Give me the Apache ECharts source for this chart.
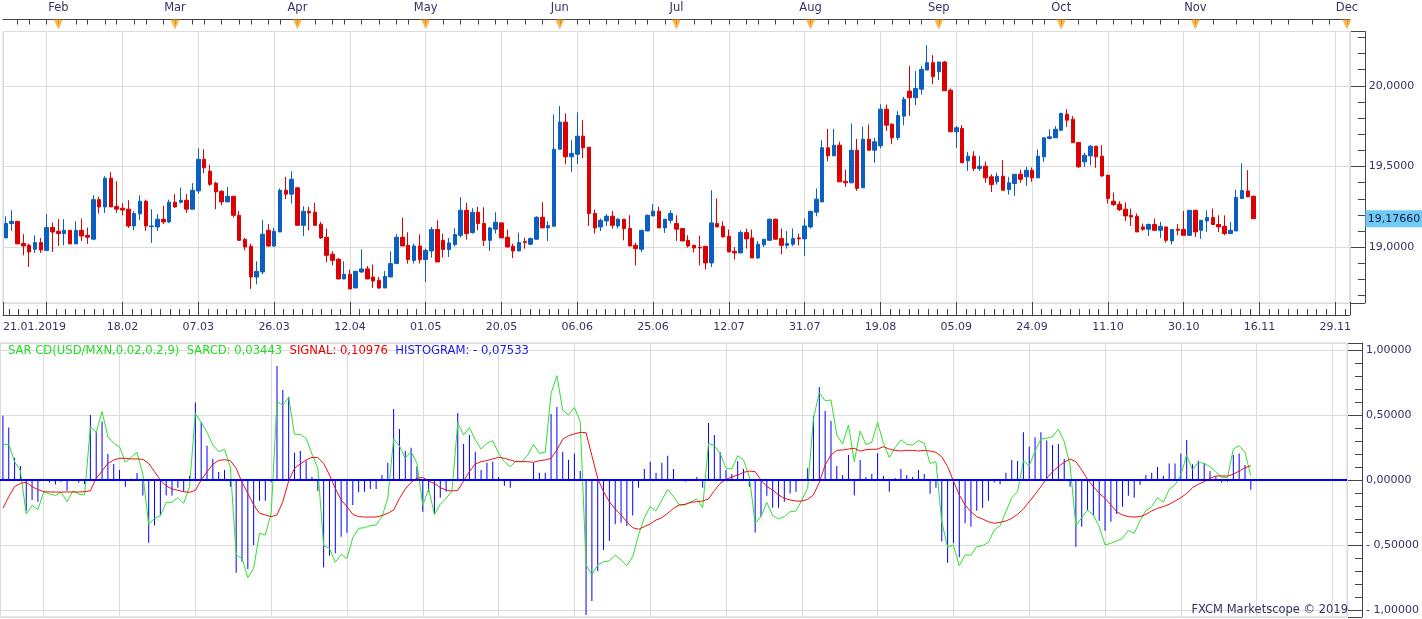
<!DOCTYPE html>
<html><head><meta charset="utf-8">
<script src="https://cdn.jsdelivr.net/npm/echarts@6/dist/echarts.min.js"></script>
<style>html,body{margin:0;padding:0;background:#fff}#c{width:1422px;height:619px}</style>
</head><body><div id="c"></div>
<script>
// ---------- DATA ----------
const opens = [19.058,19.147,19.161,19.023,19.012,18.988,19.029,18.981,19.122,19.099,19.085,19.105,19.021,19.105,19.074,19.050,19.295,19.250,19.428,19.252,19.242,19.236,19.132,19.207,19.285,19.128,19.126,19.174,19.157,19.279,19.279,19.291,19.236,19.349,19.545,19.471,19.397,19.347,19.281,19.316,19.198,19.048,19.006,18.816,18.847,19.105,19.008,19.095,19.353,19.329,19.368,19.136,19.223,19.217,19.143,19.062,18.957,18.926,18.804,18.833,18.748,18.847,18.866,18.816,18.796,18.748,18.816,18.899,19.062,19.012,18.919,19.008,18.924,18.977,19.110,19.043,18.986,19.017,19.074,19.229,19.091,19.217,19.147,19.043,19.112,19.151,19.062,19.006,18.977,19.035,19.019,19.050,19.186,19.120,19.130,19.607,19.775,19.560,19.576,19.688,19.620,19.209,19.126,19.163,19.192,19.132,19.174,19.116,19.012,18.988,19.101,19.194,19.223,19.120,19.167,19.147,19.116,19.043,19.012,19.000,19.006,18.903,19.147,19.130,19.068,18.975,18.965,19.091,19.058,18.934,19.015,19.043,19.174,19.054,19.012,19.019,19.058,19.052,19.126,19.217,19.281,19.616,19.566,19.632,19.409,19.399,19.601,19.368,19.669,19.601,19.628,19.855,19.762,19.678,19.812,19.967,19.926,19.979,20.097,20.143,20.087,20.147,19.973,19.715,19.736,19.535,19.564,19.488,19.502,19.436,19.405,19.440,19.357,19.395,19.452,19.436,19.477,19.430,19.560,19.674,19.678,19.725,19.824,19.793,19.649,19.529,19.566,19.626,19.564,19.446,19.285,19.267,19.236,19.198,19.192,19.126,19.112,19.141,19.105,19.126,19.039,19.112,19.110,19.074,19.229,19.105,19.163,19.184,19.141,19.130,19.085,19.101,19.302,19.349,19.316];
const closes = [19.147,19.161,19.021,19.008,18.971,19.029,18.983,19.122,19.095,19.085,19.105,19.021,19.105,19.070,19.062,19.295,19.250,19.428,19.250,19.236,19.231,19.132,19.209,19.285,19.132,19.132,19.174,19.157,19.279,19.250,19.291,19.236,19.353,19.545,19.492,19.390,19.343,19.281,19.316,19.198,19.043,19.002,18.816,18.851,19.081,19.008,19.099,19.353,19.329,19.421,19.136,19.223,19.213,19.136,19.058,18.950,18.919,18.804,18.833,18.742,18.851,18.866,18.804,18.791,18.748,18.820,18.899,19.062,19.008,18.924,19.008,18.924,18.981,19.110,18.909,18.986,19.027,19.079,19.229,19.085,19.217,19.147,19.043,19.120,19.155,19.058,19.002,18.977,19.029,19.029,19.054,19.186,19.120,19.134,19.607,19.775,19.560,19.581,19.688,19.616,19.209,19.120,19.167,19.192,19.136,19.174,19.116,19.008,18.992,19.105,19.198,19.223,19.120,19.174,19.209,19.112,19.039,19.008,18.996,18.996,18.903,19.151,19.126,19.064,18.971,18.965,19.091,19.052,18.934,19.019,19.050,19.174,19.050,19.012,19.023,19.054,19.052,19.132,19.223,19.298,19.616,19.566,19.632,19.405,19.399,19.601,19.364,19.669,19.601,19.653,19.855,19.756,19.678,19.816,19.917,19.926,19.983,20.101,20.143,20.056,20.147,19.969,19.715,19.740,19.523,19.564,19.488,19.502,19.430,19.388,19.440,19.353,19.399,19.452,19.421,19.477,19.430,19.564,19.678,19.684,19.731,19.829,19.787,19.647,19.498,19.570,19.626,19.560,19.442,19.302,19.264,19.233,19.194,19.188,19.095,19.112,19.141,19.105,19.130,19.043,19.110,19.105,19.074,19.229,19.095,19.167,19.184,19.141,19.126,19.085,19.105,19.308,19.351,19.312,19.1766];
const highs = [19.192,19.229,19.161,19.081,19.023,19.074,19.058,19.205,19.153,19.174,19.174,19.105,19.161,19.178,19.122,19.322,19.312,19.440,19.465,19.409,19.273,19.291,19.225,19.322,19.295,19.236,19.205,19.256,19.295,19.329,19.370,19.329,19.397,19.612,19.607,19.512,19.405,19.353,19.374,19.316,19.225,19.058,19.023,18.913,19.167,19.143,19.120,19.364,19.436,19.471,19.374,19.254,19.250,19.275,19.157,19.116,18.975,18.934,18.913,18.862,18.855,18.988,18.884,18.893,18.816,18.853,18.975,19.081,19.184,19.093,19.023,19.079,18.992,19.126,19.167,19.085,19.058,19.118,19.310,19.275,19.242,19.250,19.248,19.126,19.217,19.151,19.110,19.023,19.091,19.060,19.060,19.192,19.279,19.161,19.822,19.874,19.829,19.663,19.835,19.787,19.620,19.233,19.178,19.205,19.225,19.182,19.174,19.198,19.029,19.105,19.203,19.267,19.250,19.174,19.229,19.198,19.116,19.074,19.012,19.072,19.006,19.353,19.302,19.161,19.110,19.002,19.105,19.116,19.110,19.039,19.050,19.178,19.178,19.116,19.101,19.116,19.085,19.178,19.223,19.364,19.663,19.733,19.733,19.653,19.481,19.767,19.671,19.746,19.760,19.678,19.886,19.884,19.767,19.843,19.932,20.122,20.091,20.122,20.252,20.190,20.147,20.153,19.983,19.750,19.756,19.591,19.595,19.564,19.531,19.452,19.461,19.539,19.436,19.452,19.481,19.498,19.494,19.605,19.678,19.731,19.750,19.833,19.855,19.812,19.649,19.585,19.632,19.626,19.632,19.450,19.339,19.285,19.277,19.240,19.209,19.147,19.147,19.178,19.157,19.126,19.110,19.143,19.225,19.229,19.233,19.167,19.229,19.240,19.198,19.198,19.157,19.357,19.519,19.477,19.320];
const lows = [19.058,19.101,19.021,18.950,18.878,18.965,18.965,18.977,18.971,19.008,19.012,19.021,19.021,19.039,19.021,19.043,19.209,19.213,19.250,19.213,19.198,19.120,19.105,19.167,19.101,19.027,19.101,19.143,19.151,19.244,19.271,19.213,19.236,19.333,19.459,19.380,19.236,19.260,19.281,19.184,19.039,18.981,18.742,18.771,18.833,19.002,19.002,19.095,19.298,19.271,19.136,19.070,19.105,19.132,19.052,18.909,18.888,18.802,18.802,18.742,18.748,18.841,18.802,18.748,18.742,18.748,18.816,18.899,19.008,18.899,18.899,18.899,18.785,18.936,18.909,18.936,18.940,19.006,19.060,19.048,19.085,19.105,19.008,18.977,19.085,19.058,18.998,18.934,18.977,18.992,19.012,19.048,19.120,19.039,19.130,19.607,19.514,19.467,19.514,19.552,19.132,19.085,19.101,19.132,19.116,19.116,19.043,19.008,18.888,18.971,19.101,19.194,19.120,19.089,19.147,19.039,19.039,18.998,18.967,18.888,18.862,18.878,19.126,19.064,18.971,18.924,18.965,18.992,18.934,18.928,19.002,19.039,19.050,18.957,18.992,19.008,19.012,18.946,19.116,19.192,19.281,19.533,19.566,19.405,19.374,19.399,19.349,19.368,19.601,19.523,19.612,19.721,19.638,19.663,19.756,19.814,19.880,19.946,20.097,20.010,20.035,19.969,19.715,19.616,19.523,19.473,19.473,19.473,19.399,19.343,19.388,19.353,19.326,19.318,19.399,19.380,19.405,19.430,19.529,19.667,19.678,19.719,19.746,19.647,19.492,19.498,19.508,19.492,19.436,19.271,19.256,19.225,19.163,19.132,19.095,19.101,19.070,19.101,19.058,19.029,19.017,19.074,19.074,19.070,19.064,19.052,19.095,19.141,19.095,19.074,19.085,19.101,19.298,19.312,19.1766];
const sarcd = [0.274,0.274,0.14,0.07,-0.262,-0.197,-0.228,-0.09,-0.108,-0.118,-0.095,-0.167,-0.085,-0.108,-0.115,0.41,0.367,0.526,0.333,0.282,0.256,0.136,0.174,0.213,0.04,-0.341,-0.295,-0.274,-0.172,-0.172,-0.136,-0.179,-0.051,0.513,0.444,0.367,0.269,0.218,0.236,0.1,-0.577,-0.603,-0.751,-0.679,-0.41,-0.423,-0.256,0.603,0.577,0.636,0.351,0.351,0.321,0.2,0.09,-0.505,-0.526,-0.633,-0.572,-0.603,-0.444,-0.372,-0.367,-0.351,-0.346,-0.282,-0.141,0.315,0.262,0.167,0.218,0.128,-0.195,-0.069,-0.264,-0.187,-0.141,-0.085,0.441,0.346,0.403,0.308,0.238,0.282,0.303,0.205,0.141,0.103,0.146,0.141,0.192,0.274,0.205,0.213,0.667,0.803,0.538,0.5,0.559,0.449,-0.654,-0.731,-0.654,-0.628,-0.623,-0.577,-0.615,-0.659,-0.59,-0.423,-0.29,-0.205,-0.238,-0.154,-0.072,-0.128,-0.192,-0.192,-0.167,-0.146,-0.213,0.282,0.264,0.205,0.09,0.085,0.187,0.154,0.026,-0.333,-0.282,-0.172,-0.274,-0.3,-0.282,-0.244,-0.238,-0.154,-0.064,0.474,0.672,0.61,0.615,0.346,0.277,0.423,0.141,0.377,0.274,0.29,0.444,0.282,0.172,0.249,0.31,0.274,0.269,0.303,0.282,0.128,0.141,-0.321,-0.518,-0.5,-0.659,-0.577,-0.577,-0.513,-0.505,-0.479,-0.385,-0.351,-0.244,-0.136,-0.09,0.146,0.11,0.223,0.315,0.321,0.333,0.39,0.295,0.115,-0.354,-0.29,-0.231,-0.269,-0.359,-0.5,-0.487,-0.469,-0.449,-0.387,-0.41,-0.313,-0.236,-0.205,-0.136,-0.172,-0.072,-0.038,0.038,0.192,0.077,0.136,0.128,0.103,0.064,0.021,0.018,0.238,0.264,0.213,0.03443];
const signal = [-0.218,-0.128,-0.051,-0.026,-0.018,-0.051,-0.074,-0.09,-0.092,-0.093,-0.093,-0.092,-0.093,-0.092,-0.09,-0.082,0.013,0.069,0.128,0.154,0.167,0.167,0.162,0.162,0.159,0.128,0.064,0.0,-0.046,-0.069,-0.079,-0.09,-0.095,-0.079,0.0,0.064,0.12,0.151,0.156,0.149,0.09,-0.018,-0.103,-0.192,-0.256,-0.269,-0.282,-0.269,-0.167,-0.008,0.09,0.123,0.154,0.174,0.172,0.128,0.038,-0.064,-0.154,-0.205,-0.264,-0.282,-0.285,-0.285,-0.285,-0.274,-0.256,-0.231,-0.141,-0.069,-0.018,0.013,0.02,-0.008,-0.026,-0.059,-0.077,-0.085,-0.079,-0.008,0.064,0.123,0.141,0.149,0.162,0.174,0.167,0.154,0.141,0.141,0.141,0.136,0.149,0.154,0.167,0.231,0.313,0.341,0.354,0.367,0.364,0.187,0.013,-0.09,-0.167,-0.223,-0.269,-0.321,-0.367,-0.379,-0.359,-0.338,-0.308,-0.29,-0.256,-0.218,-0.192,-0.187,-0.172,-0.167,-0.162,-0.146,-0.082,-0.026,0.005,0.023,0.038,0.059,0.069,0.064,0.0,-0.051,-0.077,-0.115,-0.141,-0.154,-0.162,-0.162,-0.149,-0.115,-0.018,0.115,0.192,0.228,0.231,0.238,0.244,0.223,0.233,0.236,0.238,0.256,0.238,0.228,0.223,0.228,0.228,0.223,0.228,0.223,0.213,0.179,0.103,-0.008,-0.115,-0.192,-0.244,-0.282,-0.3,-0.321,-0.333,-0.326,-0.315,-0.295,-0.264,-0.223,-0.167,-0.11,-0.051,0.013,0.064,0.103,0.136,0.162,0.141,0.077,0.005,-0.051,-0.103,-0.141,-0.192,-0.244,-0.269,-0.282,-0.285,-0.282,-0.264,-0.238,-0.218,-0.205,-0.187,-0.162,-0.136,-0.103,-0.059,-0.033,-0.013,0.013,0.031,0.031,0.031,0.044,0.069,0.095,0.10976];
const histogram = [0.495,0.403,0.172,0.108,-0.236,-0.154,-0.167,-0.005,-0.02,-0.033,-0.013,-0.082,0.008,-0.02,-0.03,0.5,0.367,0.45,0.2,0.123,0.077,-0.051,0.01,0.054,-0.12,-0.482,-0.351,-0.274,-0.12,-0.12,-0.059,-0.09,0.031,0.597,0.444,0.264,0.164,0.062,0.077,-0.051,-0.713,-0.628,-0.685,-0.5,-0.159,-0.159,-0.018,0.877,0.692,0.641,0.21,0.223,0.149,0.023,-0.085,-0.674,-0.582,-0.564,-0.436,-0.405,-0.192,-0.095,-0.09,-0.069,-0.069,0.038,0.133,0.546,0.392,0.223,0.249,0.103,-0.244,-0.09,-0.264,-0.136,-0.09,-0.005,0.515,0.277,0.346,0.218,0.077,0.133,0.141,0.023,-0.044,-0.059,0.003,-0.003,0.008,0.131,0.056,0.056,0.508,0.562,0.218,0.156,0.203,0.069,-1.038,-0.931,-0.7,-0.538,-0.469,-0.341,-0.328,-0.354,-0.274,-0.059,0.085,0.141,0.056,0.133,0.187,0.085,0.003,-0.013,0.003,0.023,-0.059,0.438,0.346,0.213,0.077,0.046,0.146,0.085,-0.051,-0.403,-0.282,-0.121,-0.213,-0.213,-0.167,-0.103,-0.09,0.008,0.09,0.495,0.715,0.531,0.454,0.108,0.038,0.192,-0.12,0.154,0.023,0.046,0.205,0.031,-0.09,0.015,0.085,0.038,0.023,0.077,0.046,-0.105,-0.059,-0.474,-0.636,-0.487,-0.595,-0.333,-0.359,-0.236,-0.213,-0.159,-0.02,-0.033,0.056,0.154,0.146,0.367,0.256,0.328,0.367,0.303,0.269,0.277,0.162,-0.051,-0.513,-0.359,-0.231,-0.274,-0.313,-0.39,-0.321,-0.262,-0.205,-0.121,-0.136,-0.038,0.038,0.056,0.1,0.031,0.126,0.126,0.203,0.308,0.121,0.149,0.128,0.069,0.026,-0.02,-0.013,0.192,0.203,0.115,-0.07533];
// month markers (bar index of first trading day) and names
const monthIdx = [9,29,50,72,95,115,138,160,181,204,230];
const monthNames = ['Feb','Mar','Apr','May','Jun','Jul','Aug','Sep','Oct','Nov','Dec'];
// date grid labels every 13 bars, first grid at bar 7
const firstDateLabel = '21.01.2019';
const gridDateLabels = ['', '18.02','07.03','26.03','12.04','01.05','20.05','06.06','25.06','12.07','31.07','19.08','05.09','24.09','11.10','30.10','16.11','29.11'];
const legendTitle = 'SAR CD(USD/MXN,0.02,0.2,9)';
const copyright = 'FXCM Marketscope \u00a9 2019';

// ---------- LAYOUT HELPERS ----------
const SLOTS = 231, GRID0 = 7, STEP = 13;
const uMin = (-0.5 - GRID0) / STEP, uMax = (SLOTS - 0.5 - GRID0) / STEP;
const cats = Array.from({length: SLOTS}, (_, i) => { const k = monthIdx.indexOf(i); return k >= 0 ? monthNames[k] : ''; });
const tickSet = new Set();
for (let m = 0; m < monthIdx.length - 1; m++) {
  const s = monthIdx[m], e = monthIdx[m+1];
  for (let j = 0; j < 8; j++) tickSet.add(Math.round(s + j * (e - s) / 8));
}
tickSet.add(monthIdx[monthIdx.length-1]);
{ const st = (monthIdx[1]-monthIdx[0])/8; for (let v = monthIdx[0]-st; v >= 0; v -= st) tickSet.add(Math.round(v)); }

const FONT = 'DejaVu Sans';
const TXT = '#333366';
const comma = (v, d) => (v < 0 ? '- ' : '') + Math.abs(v).toFixed(d).replace('.', ',');
const near = (v, s) => Math.abs(v / s - Math.round(v / s)) < 1e-6;

const candleData = opens.map((o, i) => [o, closes[i], lows[i], highs[i]]);
const last = closes.length - 1;
const UP = '#0a5fc0', DOWN = '#dd0000';
const GREEN = '#2fe02f', RED = '#ee1111', BLUE = '#0000ff';

const chart = echarts.init(document.getElementById('c'), null, {renderer: 'canvas'});
const gridCommon = {left: -0.54, width: 1350.4, show: true, borderColor: '#c9d0da', borderWidth: 1, backgroundColor: '#fff'};
const uAxisBase = {type: 'value', min: uMin, max: uMax, splitNumber: 14,
  splitLine: {show: true, lineStyle: {color: '#dcdcdc', width: 1}}};
const LF = 11.6;

chart.setOption({
  animation: false,
  backgroundColor: '#ffffff',
  textStyle: {fontFamily: FONT},
  title: [
    {left: 8, top: 345, padding: 0, text: '{g|' + legendTitle + '  SARCD: ' + comma(sarcd[last], 5) + '}  {r|SIGNAL: ' + comma(signal[last], 5) + '}  {b|HISTOGRAM: ' + comma(histogram[last], 5) + '}',
     textStyle: {fontSize: LF, fontWeight: 'normal', fontFamily: FONT, rich: {
       g: {color: '#22dd22', fontSize: LF, fontFamily: FONT},
       r: {color: '#ee0000', fontSize: LF, fontFamily: FONT},
       b: {color: '#1a1ae6', fontSize: LF, fontFamily: FONT}}}},
    {right: 74, top: 604, padding: 0, text: copyright, textStyle: {fontSize: 11.5, fontWeight: 'normal', color: TXT, fontFamily: FONT}}
  ],
  grid: [
    Object.assign({top: 31.5, height: 271.5}, gridCommon),
    Object.assign({top: 343, height: 274}, gridCommon)
  ],
  xAxis: [
    Object.assign({}, uAxisBase, {gridIndex: 0, position: 'bottom', offset: 12,
      axisLine: {show: true, onZero: false, lineStyle: {color: '#444', width: 1}},
      axisTick: {show: true, inside: true, length: 13, lineStyle: {color: '#444'}},
      minorTick: {show: true, splitNumber: 8, length: 6, lineStyle: {color: '#444'}},
      axisLabel: {show: true, margin: 7, color: TXT, fontSize: 11, fontFamily: FONT,
        showMinLabel: true, showMaxLabel: false, alignMinLabel: 'left',
        formatter: v => { const k = Math.round(v); if (Math.abs(v - k) > 1e-6) return v < 0 ? firstDateLabel : ''; return gridDateLabels[k] || ''; }}}),
    {type: 'category', gridIndex: 0, data: cats, position: 'top', offset: 12, boundaryGap: true,
      axisLine: {show: true, onZero: false, lineStyle: {color: '#444', width: 1}},
      axisTick: {show: true, inside: true, length: 5, alignWithLabel: true, interval: (i) => tickSet.has(i), lineStyle: {color: '#444'}},
      axisLabel: {show: true, interval: 0, margin: 5, color: TXT, fontSize: 11.5, fontFamily: FONT},
      splitLine: {show: false}},
    Object.assign({}, uAxisBase, {gridIndex: 1, axisLine: {show: false, onZero: false}, axisTick: {show: false}, axisLabel: {show: false}}),
    {type: 'category', gridIndex: 1, data: cats, boundaryGap: true, show: false, axisLine: {onZero: false}}
  ],
  yAxis: [
    {type: 'value', gridIndex: 0, position: 'right', offset: 15, min: 18.655, max: 20.336, splitNumber: 3, scale: true,
      axisLine: {show: true, onZero: false, lineStyle: {color: '#444'}},
      axisTick: {show: true, inside: true, length: 14, lineStyle: {color: '#444'}},
      minorTick: {show: true, splitNumber: 5, length: 7, lineStyle: {color: '#444'}},
      splitLine: {show: true, lineStyle: {color: '#dcdcdc'}},
      axisLabel: {margin: 4, color: TXT, fontSize: 11, fontFamily: FONT, formatter: v => near(v, 0.5) ? comma(v, 4) : ''}},
    {type: 'value', gridIndex: 1, position: 'right', offset: 15, min: -1.054, max: 1.054, splitNumber: 4,
      axisLine: {show: true, onZero: false, lineStyle: {color: '#444'}},
      axisTick: {show: true, inside: true, length: 14, lineStyle: {color: '#444'}},
      minorTick: {show: true, splitNumber: 5, length: 7, lineStyle: {color: '#444'}},
      splitLine: {show: true, lineStyle: {color: '#dcdcdc'}},
      axisLabel: {margin: 4, color: TXT, fontSize: 11, fontFamily: FONT, formatter: v => near(v, 0.5) ? comma(v, 5) : ''}}
  ],
  series: [
    {type: 'candlestick', xAxisIndex: 1, yAxisIndex: 0, data: candleData, barWidth: 4,
      itemStyle: {color: UP, color0: DOWN, borderColor: UP, borderColor0: DOWN, borderWidth: 1},
      markPoint: {symbol: 'rect', symbolSize: [57, 17], symbolOffset: [47, 0], silent: true,
        itemStyle: {color: '#6fcaf6'},
        label: {show: true, position: 'inside', color: '#1a1a40', fontSize: 11, fontFamily: FONT, formatter: () => comma(closes[last], 5)},
        data: [{coord: [SLOTS - 1, closes[last]]}]}},
    {type: 'scatter', xAxisIndex: 1, yAxisIndex: 0, clip: false, z: 10, silent: true,
      symbol: 'triangle', symbolRotate: 180, symbolSize: [9, 10], symbolOffset: [0, -7],
      itemStyle: {color: '#f6a21e'},
      data: monthIdx.map(i => [i, 20.336])},
    {type: 'bar', xAxisIndex: 3, yAxisIndex: 1, data: histogram, barWidth: 1, z: 2,
      itemStyle: {color: BLUE},
      markLine: {silent: true, symbol: 'none', label: {show: false}, lineStyle: {color: BLUE, width: 2, type: 'solid'}, data: [{yAxis: 0}]}},
    {type: 'line', xAxisIndex: 3, yAxisIndex: 1, data: sarcd, showSymbol: false, symbol: 'none', z: 3,
      lineStyle: {color: GREEN, width: 1}},
    {type: 'line', xAxisIndex: 3, yAxisIndex: 1, data: signal, showSymbol: false, symbol: 'none', z: 4,
      lineStyle: {color: RED, width: 1}}
  ]
});
</script></body></html>
